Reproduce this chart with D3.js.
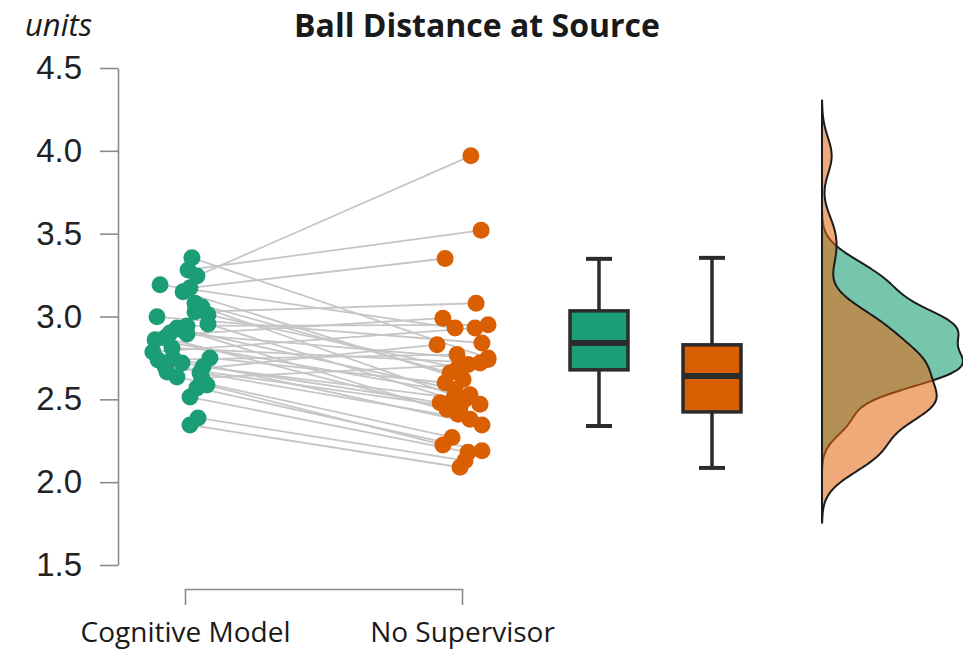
<!DOCTYPE html>
<html>
<head>
<meta charset="utf-8">
<script src="https://cdn.jsdelivr.net/npm/d3@7"></script>
<style>
  html, body { margin: 0; padding: 0; background: #fff; }
  svg { display: block; }
</style>
</head>
<body>
<svg id="chart" width="963" height="651"></svg>
<script>
// ---- data -------------------------------------------------------------
const groups = ["Cognitive Model", "No Supervisor"];
const groupColors = ["#1b9e77", "#d95f02"];

// paired measurements, one entry per participant
const cognitiveModel = [3.354, 3.281, 3.245, 3.191, 3.173, 3.149, 3.058, 3.028, 3.010, 2.998,
                        2.955, 2.943, 2.931, 2.901, 2.895, 2.871, 2.859, 2.786, 2.750, 2.750,
                        2.738, 2.720, 2.696, 2.665, 2.635, 2.629, 2.587, 2.569, 2.514, 2.388,
                        2.345, 2.920, 2.700, 2.810, 2.660, 3.080];
const noSupervisor   = [2.75, 3.52, 3.97, 2.93, 3.35, 2.62, 2.47, 3.08, 2.69, 2.84,
                        2.50, 2.95, 2.41, 2.74, 2.99, 2.44, 2.527, 2.93, 2.345, 2.60,
                        2.77, 2.48, 2.50, 2.83, 2.27, 2.71, 2.225, 2.19, 2.18, 2.13,
                        2.09, 2.56, 2.45, 2.72, 2.38, 2.66];

// horizontal jitter, as a fraction of the distance between the two groups
const cognitiveJitter = [0.025, 0.011, 0.043, -0.090, 0.018, -0.007, 0.061, 0.036, 0.083, -0.101,
                         0.083, 0.007, -0.029, -0.054, 0.007, -0.072, -0.108, -0.116, -0.043, 0.090,
                         -0.097, -0.011, 0.065, -0.065, -0.029, 0.061, 0.079, 0.043, 0.018, 0.047,
                         0.018, -0.011, -0.072, -0.047, 0.054, 0.036];
const supervisorJitter = [0.094, 0.069, 0.032, -0.025, -0.061, 0.004, 0.065, 0.051, -0.014, 0.072,
                          -0.032, 0.094, -0.014, 0.094, -0.069, -0.054, 0.029, 0.047, 0.072, -0.061,
                          -0.018, -0.079, 0.011, -0.090, -0.036, 0.022, -0.069, 0.072, 0.022, 0.011,
                          -0.007, -0.025, -0.007, 0.065, 0.029, -0.043];

// box-plot summaries: [lower whisker, Q1, median, Q3, upper whisker]
const boxCognitive  = [2.339, 2.678, 2.840, 3.034, 3.348];
const boxSupervisor = [2.086, 2.424, 2.641, 2.829, 3.354];

const yTicks = [1.5, 2.0, 2.5, 3.0, 3.5, 4.0, 4.5];

// ---- layout -----------------------------------------------------------
const svg = d3.select("#chart");

const y = d3.scaleLinear().domain([1.5, 4.5]).range([565, 68]);
const xPair = d3.scaleLinear().domain([0, 1]).range([185, 462]);
const xBox = d3.scalePoint().domain(groups).range([599, 712]);
const densityBase = 822;

// ---- titles -----------------------------------------------------------
svg.append("text")
  .attr("x", 477).attr("y", 37)
  .attr("text-anchor", "middle")
  .attr("font-family", "'Open Sans', sans-serif")
  .attr("font-weight", "bold")
  .attr("font-size", 32)
  .attr("fill", "#1a1a1a")
  .text("Ball Distance at Source");

svg.append("text")
  .attr("x", 25).attr("y", 36)
  .attr("font-family", "'Open Sans', sans-serif")
  .attr("font-style", "italic")
  .attr("font-size", 31)
  .attr("fill", "#1a1a1a")
  .text("units");

// ---- y axis -----------------------------------------------------------
const yAxis = d3.axisLeft(y)
  .tickValues(yTicks)
  .tickFormat(d3.format(".1f"))
  .tickSizeInner(18)
  .tickSizeOuter(0)
  .tickPadding(18);

const gy = svg.append("g")
  .attr("transform", "translate(118,0)")
  .call(yAxis);
gy.select(".domain").attr("stroke", "#8a8a8a").attr("stroke-width", 1.6);
gy.selectAll(".tick line").attr("stroke", "#8a8a8a").attr("stroke-width", 1.6);
gy.selectAll(".tick text")
  .attr("font-family", "'Liberation Sans', Arial, sans-serif")
  .attr("font-size", 33)
  .attr("fill", "#222");

// ---- x bracket --------------------------------------------------------
const xAxis = d3.axisBottom(xPair)
  .tickValues([0, 1])
  .tickFormat((d) => groups[d])
  .tickSizeInner(16)
  .tickSizeOuter(0);
const gx = svg.append("g")
  .attr("transform", "translate(0,589)")
  .call(xAxis);
gx.select(".domain").attr("stroke", "#8a8a8a").attr("stroke-width", 1.6);
gx.selectAll(".tick line").attr("stroke", "#8a8a8a").attr("stroke-width", 1.6);
gx.selectAll(".tick text")
  .attr("y", 53)
  .attr("dy", 0)
  .attr("font-family", "'Open Sans', sans-serif")
  .attr("font-size", 28)
  .attr("fill", "#1a1a1a");

// ---- paired lines and points -----------------------------------------
const pairs = cognitiveModel.map((v, i) => ({
  a: v, b: noSupervisor[i], ja: cognitiveJitter[i], jb: supervisorJitter[i]
}));

svg.append("g")
  .selectAll("line")
  .data(pairs)
  .join("line")
  .attr("x1", (d) => xPair(0 + d.ja))
  .attr("y1", (d) => y(d.a))
  .attr("x2", (d) => xPair(1 + d.jb))
  .attr("y2", (d) => y(d.b))
  .attr("stroke", "#c6c6c6")
  .attr("stroke-width", 1.8);

const pointsG = svg.append("g");
pointsG.selectAll("circle.cm")
  .data(pairs)
  .join("circle")
  .attr("class", "cm")
  .attr("cx", (d) => xPair(0 + d.ja))
  .attr("cy", (d) => y(d.a))
  .attr("r", 8.5)
  .attr("fill", groupColors[0]);
pointsG.selectAll("circle.ns")
  .data(pairs)
  .join("circle")
  .attr("class", "ns")
  .attr("cx", (d) => xPair(1 + d.jb))
  .attr("cy", (d) => y(d.b))
  .attr("r", 8.5)
  .attr("fill", groupColors[1]);

// ---- box plots --------------------------------------------------------
const boxes = [boxCognitive, boxSupervisor];
const boxW = 58, capW = 26;
const boxG = svg.append("g")
  .selectAll("g")
  .data(boxes)
  .join("g");

boxG.append("line")
  .attr("x1", (d, i) => xBox(groups[i]))
  .attr("x2", (d, i) => xBox(groups[i]))
  .attr("y1", (d) => y(d[0]))
  .attr("y2", (d) => y(d[4]))
  .attr("stroke", "#2b2b2b").attr("stroke-width", 3.5);
boxG.selectAll("line.cap")
  .data((d, i) => [{ v: d[0], i }, { v: d[4], i }])
  .join("line")
  .attr("class", "cap")
  .attr("x1", (d) => xBox(groups[d.i]) - capW / 2)
  .attr("x2", (d) => xBox(groups[d.i]) + capW / 2)
  .attr("y1", (d) => y(d.v))
  .attr("y2", (d) => y(d.v))
  .attr("stroke", "#2b2b2b").attr("stroke-width", 4);
boxG.append("rect")
  .attr("x", (d, i) => xBox(groups[i]) - boxW / 2)
  .attr("width", boxW)
  .attr("y", (d) => y(d[3]))
  .attr("height", (d) => y(d[1]) - y(d[3]))
  .attr("fill", (d, i) => groupColors[i])
  .attr("stroke", "#2b2b2b").attr("stroke-width", 3.5);
boxG.append("line")
  .attr("x1", (d, i) => xBox(groups[i]) - boxW / 2)
  .attr("x2", (d, i) => xBox(groups[i]) + boxW / 2)
  .attr("y1", (d) => y(d[2]))
  .attr("y2", (d) => y(d[2]))
  .attr("stroke", "#2b2b2b").attr("stroke-width", 6);

// ---- half-violin densities -------------------------------------------
// Gaussian KDE, rule-of-thumb bandwidth scaled by `adjust`
function bandwidth(values, adjust) {
  const s = d3.deviation(values);
  const iqr = d3.quantile(values, 0.75) - d3.quantile(values, 0.25);
  return adjust * 0.9 * Math.min(s, iqr / 1.34) * Math.pow(values.length, -0.2);
}
function kde(values, adjust) {
  const bw = bandwidth(values, adjust);
  const lo = d3.min(values) - 3 * bw, hi = d3.max(values) + 3 * bw;
  const n = 256;
  const pts = [];
  for (let k = 0; k < n; k++) {
    const t = lo + (hi - lo) * k / (n - 1);
    let s = 0;
    for (const v of values) {
      const z = (t - v) / bw;
      s += Math.exp(-0.5 * z * z);
    }
    pts.push([t, s / (values.length * bw * Math.sqrt(2 * Math.PI))]);
  }
  return pts;
}
const densities = [kde(cognitiveModel, 0.85), kde(noSupervisor, 0.85)];
const maxD = d3.max(densities, (d) => d3.max(d, (p) => p[1]));
const xDens = d3.scaleLinear().domain([0, maxD]).range([densityBase, 963]);

const area = d3.area()
  .y((p) => y(p[0]))
  .x0(densityBase)
  .x1((p) => xDens(p[1]))
  .curve(d3.curveBasis);

const densFill = ["rgba(27,158,119,0.6)", "rgba(228,104,18,0.56)"];
svg.append("g")
  .selectAll("path")
  .data(densities)
  .join("path")
  .attr("d", (d) => area(d) + "Z")
  .attr("fill", (d, i) => densFill[i])
  .attr("stroke", "#1c1c1c")
  .attr("stroke-width", 2)
  .attr("stroke-linejoin", "round");
</script>
</body>
</html>
